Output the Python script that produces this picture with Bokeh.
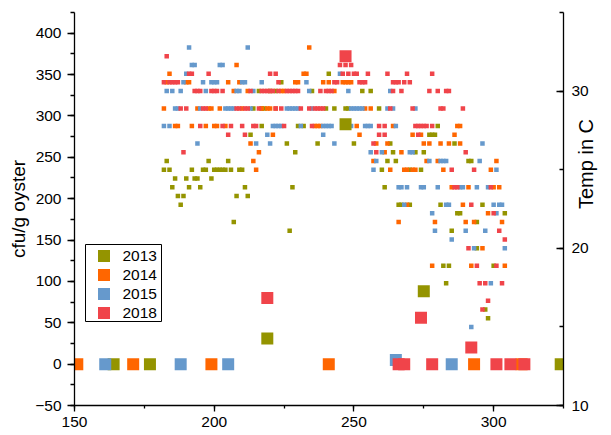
import math

from bokeh.plotting import figure
from bokeh.models import (Range1d, LinearAxis, SingleIntervalTicker,
                          ColumnDataSource)
from bokeh.core.properties import value
from bokeh.embed import file_html
from bokeh.resources import INLINE

# ---------------------------------------------------------------------------
# Vibrio counts in oysters (cfu/g) by day of year, and daily water temperature
# (logged in whole degrees Fahrenheit, plotted in Celsius on the right axis).
# ---------------------------------------------------------------------------
years = ["2013", "2014", "2015", "2018"]
colors = ["#949400", "#FF6600", "#6699CC", "#F0444A"]

# oyster counts
cfu_day_2013 = [164, 177, 219, 247, 275, 324]
cfu_2013 = [0, 0, 31, 290, 88, 0]
cfu_day_2014 = [151, 171, 199, 241, 293, 310]
cfu_2014 = [0, 0, 0, 0, 0, 0]
cfu_day_2015 = [161, 188, 205, 265, 285]
cfu_2015 = [0, 0, 0, 5, 0]
cfu_day_2018 = [219, 247, 266, 268, 274, 278, 292, 301, 306, 311]
cfu_2018 = [80, 372, 0, 0, 56, 0, 20, 0, 0, 0]

# water temperature, degrees F
temp_day_2013 = [182, 183, 184, 185, 186, 187, 188, 189, 190, 191, 192, 193, 194,
                 195, 196, 197, 198, 199, 200, 201, 202, 203, 204, 205, 206, 207,
                 208, 209, 210, 211, 212, 213, 214, 216, 217, 217, 218, 220, 222,
                 224, 226, 227, 228, 229, 230, 232, 235, 237, 240, 241, 243, 247,
                 248, 250, 253, 256, 259, 260, 261, 262, 263, 264, 265, 266, 267,
                 270, 270, 272, 274, 275, 277, 278, 279, 280, 281, 282, 283, 284,
                 285, 286, 287, 288, 291, 292, 294, 294, 296, 297, 298, 300, 304]
temp_f_2013 = [77, 78, 77, 75, 76, 74, 73, 74, 76, 75, 77, 76, 76,
               75, 77, 77, 78, 76, 77, 77, 77, 77, 77, 78, 77, 71,
               74, 77, 77, 75, 74, 81, 84, 86, 84, 82, 84, 86, 86,
               87, 80, 70, 75, 79, 82, 82, 86, 80, 84, 88, 84, 84,
               84, 80, 86, 86, 84, 77, 75, 78, 80, 79, 78, 73, 73,
               73, 77, 79, 77, 79, 81, 81, 81, 82, 73, 66, 64, 66,
               70, 80, 72, 72, 78, 78, 71, 68, 73, 61, 60, 66, 72]

temp_day_2014 = [182, 183, 184, 186, 187, 190, 191, 192, 194, 197, 198, 199, 200,
                 201, 202, 204, 205, 207, 208, 209, 210, 212, 213, 214, 215, 216,
                 217, 219, 220, 221, 222, 224, 225, 229, 230, 232, 233, 234, 236,
                 237, 238, 239, 241, 243, 246, 247, 248, 249, 251, 252, 254, 256,
                 257, 258, 261, 262, 263, 264, 266, 267, 268, 269, 269, 271, 271,
                 272, 274, 275, 276, 277, 278, 279, 280, 281, 282, 284, 285, 286,
                 287, 288, 288, 289, 290, 291, 292, 293, 296, 298, 299, 300, 301,
                 302, 303, 304]
temp_f_2014 = [84, 87, 88, 82, 82, 87, 87, 82, 84, 82, 84, 84, 82,
               82, 84, 82, 87, 86, 89, 87, 84, 86, 80, 78, 77, 79,
               84, 84, 84, 81, 84, 86, 86, 87, 87, 88, 88, 91, 82,
               82, 82, 87, 87, 86, 87, 87, 87, 87, 82, 81, 84, 84,
               78, 80, 79, 80, 77, 82, 71, 79, 77, 77, 73, 77, 81,
               77, 81, 80, 78, 80, 66, 71, 78, 80, 77, 80, 75, 81,
               82, 82, 80, 73, 71, 75, 66, 71, 68, 72, 77, 75, 78,
               75, 71, 66]

temp_day_2015 = [182, 183, 184, 185, 186, 187, 188, 189, 190, 191, 192, 193, 194,
                 195, 196, 197, 199, 200, 201, 202, 203, 204, 205, 206, 207, 208,
                 209, 210, 211, 212, 213, 214, 215, 217, 219, 220, 221, 222, 223,
                 224, 226, 227, 228, 229, 230, 231, 233, 234, 235, 239, 239, 240,
                 241, 242, 243, 245, 248, 249, 249, 250, 251, 252, 253, 254, 255,
                 256, 256, 257, 258, 260, 262, 263, 264, 265, 266, 267, 268, 269,
                 270, 271, 272, 274, 275, 277, 278, 279, 280, 281, 282, 283, 283,
                 284, 285, 288, 289, 290, 291, 292, 293, 294, 295, 296, 297, 298,
                 299, 300, 301, 301, 302, 303, 304]
temp_f_2015 = [82, 86, 82, 86, 84, 84, 86, 87, 88, 91, 89, 89, 80,
               84, 87, 86, 87, 87, 87, 89, 89, 84, 84, 84, 84, 86,
               86, 87, 87, 91, 84, 86, 80, 87, 81, 80, 82, 82, 82,
               82, 84, 84, 84, 84, 84, 82, 87, 86, 84, 82, 81, 82,
               82, 82, 80, 88, 86, 84, 82, 84, 84, 84, 84, 82, 82,
               82, 79, 77, 78, 79, 84, 86, 84, 82, 75, 75, 73, 75,
               79, 79, 84, 75, 75, 78, 72, 70, 75, 78, 78, 78, 73,
               73, 69, 75, 75, 70, 57, 59, 68, 75, 78, 80, 70, 75,
               64, 73, 77, 72, 73, 73, 68]

temp_day_2018 = [182, 183, 184, 185, 186, 187, 188, 189, 190, 191, 192, 193, 194,
                 195, 195, 196, 197, 198, 199, 200, 201, 203, 203, 205, 206, 208,
                 209, 210, 211, 211, 212, 213, 214, 215, 216, 217, 218, 219, 220,
                 220, 221, 222, 222, 223, 223, 224, 225, 226, 227, 228, 229, 230,
                 231, 234, 235, 236, 237, 238, 238, 239, 240, 241, 242, 243, 244,
                 245, 246, 247, 248, 249, 250, 251, 252, 253, 254, 255, 257, 258,
                 259, 259, 261, 261, 262, 263, 264, 264, 265, 266, 267, 268, 269,
                 270, 271, 272, 273, 273, 274, 275, 276, 277, 278, 278, 280, 281,
                 282, 283, 284, 285, 286, 287, 289, 290, 291, 292, 293, 294, 295,
                 296, 297, 298, 299, 300, 301, 302, 303, 304]
temp_f_2018 = [87, 90, 87, 87, 87, 87, 84, 79, 84, 88, 88, 86, 86,
               86, 82, 84, 84, 88, 86, 86, 86, 86, 82, 81, 82, 84,
               84, 82, 84, 81, 84, 86, 82, 82, 84, 86, 86, 86, 86,
               88, 86, 88, 84, 87, 86, 84, 82, 86, 86, 86, 86, 86,
               84, 84, 82, 84, 84, 84, 86, 84, 86, 86, 86, 87, 87,
               89, 88, 89, 88, 89, 88, 88, 87, 87, 87, 88, 80, 79,
               82, 81, 82, 81, 88, 84, 87, 86, 87, 87, 86, 87, 88,
               87, 84, 82, 82, 81, 82, 82, 82, 86, 88, 82, 86, 84,
               84, 86, 86, 77, 75, 75, 84, 79, 68, 73, 77, 66, 64,
               61, 64, 62, 75, 72, 66, 70, 64, 69]

cfu_days = [cfu_day_2013, cfu_day_2014, cfu_day_2015, cfu_day_2018]
cfu_vals = [cfu_2013, cfu_2014, cfu_2015, cfu_2018]
temp_days = [temp_day_2013, temp_day_2014, temp_day_2015, temp_day_2018]
temp_fs = [temp_f_2013, temp_f_2014, temp_f_2015, temp_f_2018]

FONT = "Liberation Sans"

# plot frame geometry (pixels) and data ranges
FRAME_L, FRAME_T, FRAME_W, FRAME_H = 74, 12, 489, 393
X_START, X_END = 150, 325
Y_START, Y_END = -50, 425

p = figure(width=611, height=435,
           x_range=Range1d(X_START, X_END), y_range=Range1d(Y_START, Y_END),
           output_backend="svg", toolbar_location=None,
           min_border_left=FRAME_L, min_border_right=611 - FRAME_L - FRAME_W,
           min_border_top=FRAME_T, min_border_bottom=435 - FRAME_T - FRAME_H)
p.extra_y_ranges = {"temp": Range1d(10, 35)}
p.outline_line_color = None
p.xgrid.visible = False
p.ygrid.visible = False
p.background_fill_color = "white"
p.border_fill_color = "white"

# bottom axis: day of year
xa = p.xaxis[0]
xa.ticker = SingleIntervalTicker(interval=50, num_minor_ticks=2)
xa.major_tick_out = 6
xa.major_tick_in = 0
xa.minor_tick_out = 3
xa.minor_tick_in = 0
xa.major_label_standoff = 5

# left axis: counts
ya = p.yaxis[0]
ya.ticker = SingleIntervalTicker(interval=50, num_minor_ticks=2)
ya.major_tick_out = 7
ya.major_tick_in = 0
ya.minor_tick_out = 4
ya.minor_tick_in = 0
ya.major_label_standoff = 6
ya.axis_label = "cfu/g oyster"
ya.axis_label_standoff = 3

# right axis: temperature
ra = LinearAxis(y_range_name="temp",
                ticker=SingleIntervalTicker(interval=10, num_minor_ticks=2))
ra.major_tick_in = 7
ra.major_tick_out = 0
ra.minor_tick_in = 4
ra.minor_tick_out = 0
ra.major_label_standoff = 8
ra.axis_label = "Temp in C"
ra.axis_label_standoff = -6
try:
    # title reads bottom to top, like the left one
    ra.axis_label_orientation = math.pi / 2
except Exception:
    pass
p.add_layout(ra, "right")

for ax in (xa, ya, ra):
    ax.axis_line_color = "black"
    ax.axis_line_width = 1.3
    ax.major_tick_line_color = "black"
    ax.major_tick_line_width = 1.3
    ax.minor_tick_line_color = "black"
    ax.minor_tick_line_width = 1.3
    ax.major_label_text_font = FONT
    ax.major_label_text_font_size = "15.5px"
    ax.major_label_text_color = "black"
    ax.axis_label_text_font = FONT
    ax.axis_label_text_font_size = "19px"
    ax.axis_label_text_font_style = "normal"
    ax.axis_label_text_color = "black"
ra.axis_label_text_font_size = "20px"

# daily temperatures as small squares
for days, tf, col in zip(temp_days, temp_fs, colors):
    tc = [(f - 32) * 5.0 / 9.0 for f in tf]
    p.scatter(days, tc, y_range_name="temp", marker="square", size=4.5,
              fill_color=col, line_color=None)

# oyster counts as large squares
for days, vals, col in zip(cfu_days, cfu_vals, colors):
    src = ColumnDataSource(dict(day=days, cfu=vals))
    p.scatter("day", "cfu", source=src, marker="square", size=12,
              fill_color=col, line_color=None)


# legend box, placed in pixel terms inside the frame
def px_x(px):
    return X_START + (px - FRAME_L) * (X_END - X_START) / FRAME_W


def px_y(py):
    return Y_START + (FRAME_T + FRAME_H - py) * (Y_END - Y_START) / FRAME_H


LEG_L, LEG_R, LEG_T, LEG_B = 85, 161, 244, 321
ROW0, ROW_STEP = 255.5, 19
p.quad(left=[px_x(LEG_L)], right=[px_x(LEG_R)],
       top=[px_y(LEG_T)], bottom=[px_y(LEG_B)],
       fill_color="white", line_color="black", line_width=1)
rows_y = [px_y(ROW0 + i * ROW_STEP) for i in range(len(years))]
p.scatter([px_x(103.5)] * len(years), rows_y, marker="square", size=12,
          fill_color=colors, line_color=None)
p.text([px_x(122)] * len(years), rows_y, text=years,
       text_font=value(FONT), text_font_size="15.5px",
       text_align="left", text_baseline="middle", text_color="black")

open("out.html", "w").write(file_html(p, INLINE))
